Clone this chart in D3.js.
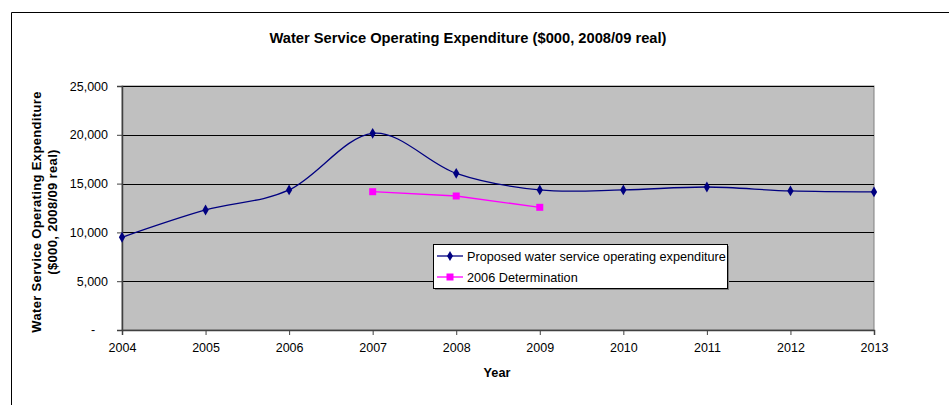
<!DOCTYPE html>
<html>
<head>
<meta charset="utf-8">
<script src="https://cdnjs.cloudflare.com/ajax/libs/d3/7.8.5/d3.min.js"></script>
<style>
  html, body { margin: 0; padding: 0; background: #fff; }
  svg { display: block; font-family: "Liberation Sans", Arial, sans-serif; }
</style>
</head>
<body>
<svg id="chart" width="949" height="405"></svg>
<script>
// Water service operating expenditure, $000 in 2008/09 real terms
const years = [2004, 2005, 2006, 2007, 2008, 2009, 2010, 2011, 2012, 2013];
const proposed = [9500, 12300, 14350, 20150, 16050, 14350, 14350, 14650, 14250, 14150];
const determinationYears = [2007, 2008, 2009];
const determination = [14170, 13730, 12570];
const yTicks = [0, 5000, 10000, 15000, 20000, 25000];
const seriesNames = ["Proposed water service operating expenditure", "2006 Determination"];

const svg = d3.select("#chart");

// outer chart frame
svg.append("path")
  .attr("d", "M11.5,405 V12.5 H949")
  .attr("fill", "none").attr("stroke", "#000").attr("stroke-width", 1);

const plot = { left: 122, right: 874, top: 86, bottom: 330 };

const x = d3.scaleLinear().domain([2004, 2013]).range([plot.left, plot.right]);
const y = d3.scaleLinear().domain([0, 25000]).range([plot.bottom, plot.top]);

// plot area
svg.append("rect")
  .attr("x", plot.left).attr("y", plot.top)
  .attr("width", plot.right - plot.left).attr("height", plot.bottom - plot.top)
  .attr("fill", "#C0C0C0").attr("stroke", "#808080").attr("stroke-width", 1);

// horizontal gridlines
svg.append("g").selectAll("line")
  .data(yTicks.filter(d => d > 0))
  .join("line")
  .attr("x1", plot.left).attr("x2", plot.right)
  .attr("y1", d => Math.round(y(d)) + 0.5).attr("y2", d => Math.round(y(d)) + 0.5)
  .attr("stroke", "#000").attr("stroke-width", 1);

// y axis
const yAxis = d3.axisLeft(y).tickValues(yTicks).tickSize(5).tickPadding(9)
  .tickFormat(d => d === 0 ? "" : d3.format(",")(d));
const gy = svg.append("g").attr("transform", `translate(${plot.left},0)`).call(yAxis);
gy.select(".domain").attr("stroke", "#404040").attr("stroke-width", 1.5);
gy.selectAll(".tick line").attr("stroke", "#404040");
gy.selectAll(".tick text").attr("font-size", 12.5).attr("fill", "#000")
  .attr("font-family", "'Liberation Sans', Arial, sans-serif");
// zero is written as a dash
gy.append("text")
  .attr("x", 93 - plot.left).attr("y", y(0) + 4)
  .attr("text-anchor", "middle").attr("font-size", 12.5).attr("fill", "#000")
  .text("-");

// x axis
const xAxis = d3.axisBottom(x).tickValues(years).tickSize(5).tickPadding(8)
  .tickFormat(d3.format("d"));
const gx = svg.append("g").attr("transform", `translate(0,${plot.bottom})`).call(xAxis);
gx.select(".domain").attr("stroke", "#404040").attr("stroke-width", 1.5);
gx.selectAll(".tick line").attr("stroke", "#404040");
gx.selectAll(".tick text").attr("font-size", 12.5).attr("fill", "#000")
  .attr("font-family", "'Liberation Sans', Arial, sans-serif");

// proposed series: smoothed line with diamond markers
const propData = years.map((yr, i) => ({ year: yr, value: proposed[i] }));
svg.append("path")
  .datum(propData)
  .attr("fill", "none").attr("stroke", "#000080").attr("stroke-width", 1.3)
  .attr("d", d3.line().x(d => x(d.year)).y(d => y(d.value)).curve(d3.curveCardinal.tension(0)));
svg.append("g").selectAll("path")
  .data(propData)
  .join("path")
  .attr("transform", d => `translate(${x(d.year)},${y(d.value)})`)
  .attr("d", d3.symbol(d3.symbolDiamond, 34))
  .attr("fill", "#000080");

// 2006 determination: straight segments with square markers
const detData = determinationYears.map((yr, i) => ({ year: yr, value: determination[i] }));
svg.append("path")
  .datum(detData)
  .attr("fill", "none").attr("stroke", "#FF00FF").attr("stroke-width", 1.3)
  .attr("d", d3.line().x(d => x(d.year)).y(d => y(d.value)));
svg.append("g").selectAll("rect")
  .data(detData)
  .join("rect")
  .attr("x", d => x(d.year) - 3.5).attr("y", d => y(d.value) - 3.5)
  .attr("width", 7).attr("height", 7)
  .attr("fill", "#FF00FF");

// legend
const legend = svg.append("g").attr("transform", "translate(433,244)");
legend.append("rect")
  .attr("x", 2).attr("y", 2).attr("width", 294).attr("height", 44)
  .attr("fill", "#808080");
legend.append("rect")
  .attr("x", 0.5).attr("y", 0.5).attr("width", 294).attr("height", 44)
  .attr("fill", "#fff").attr("stroke", "#000").attr("stroke-width", 1);
const legendColors = ["#000080", "#FF00FF"];
seriesNames.forEach((name, i) => {
  const cy = 12 + i * 21;
  legend.append("line")
    .attr("x1", 4).attr("x2", 30).attr("y1", cy).attr("y2", cy)
    .attr("stroke", legendColors[i]).attr("stroke-width", 1.3);
  if (i === 0) {
    legend.append("path")
      .attr("transform", `translate(17,${cy})`)
      .attr("d", d3.symbol(d3.symbolDiamond, 30))
      .attr("fill", legendColors[i]);
  } else {
    legend.append("rect")
      .attr("x", 17 - 3.5).attr("y", cy - 3.5).attr("width", 7).attr("height", 7)
      .attr("fill", legendColors[i]);
  }
  legend.append("text")
    .attr("x", 34).attr("y", cy + 4.5)
    .attr("font-size", 12.7).attr("fill", "#000")
    .text(name);
});

// titles
svg.append("text")
  .attr("x", 468).attr("y", 43)
  .attr("text-anchor", "middle").attr("font-size", 14.7).attr("font-weight", "bold")
  .text("Water Service Operating Expenditure ($000, 2008/09 real)");

svg.append("text")
  .attr("x", 497).attr("y", 377)
  .attr("text-anchor", "middle").attr("font-size", 12.7).attr("font-weight", "bold")
  .text("Year");

const yTitle = svg.append("text")
  .attr("transform", "translate(0,212) rotate(-90)")
  .attr("text-anchor", "middle").attr("font-size", 13).attr("font-weight", "bold")
  .attr("letter-spacing", 0.35);
yTitle.append("tspan").attr("x", 0).attr("y", 41).text("Water Service Operating Expenditure");
yTitle.append("tspan").attr("x", 0).attr("y", 57).text("($000, 2008/09 real)");
</script>
</body>
</html>
